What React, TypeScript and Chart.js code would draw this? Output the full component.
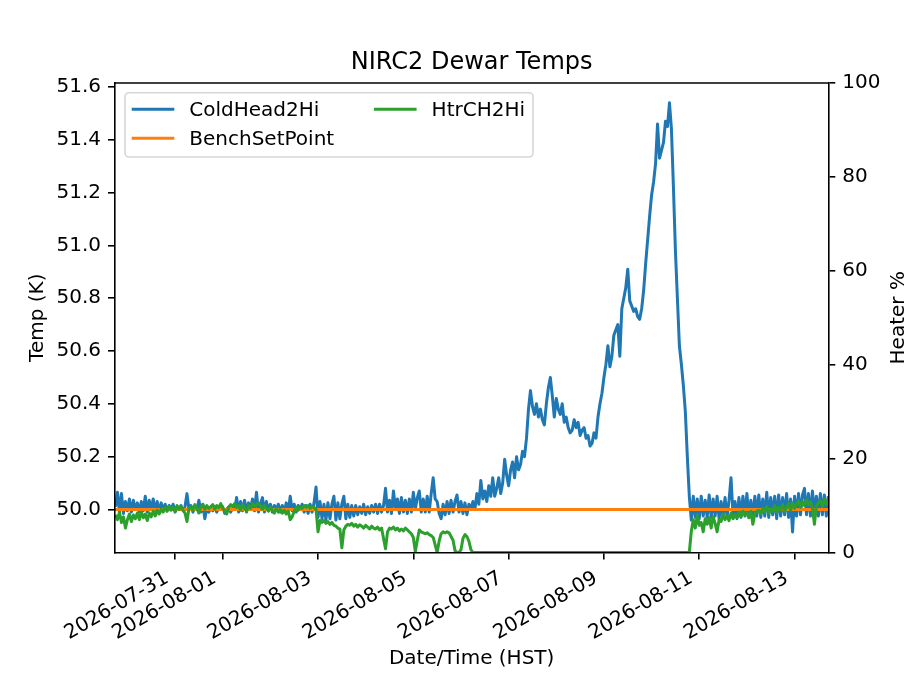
import { useEffect, useRef } from "react";
import { Chart, registerables, type Plugin } from "chart.js";

Chart.register(...registerables);

// hourly samples starting 2026-07-29 18:00 (HST, stored as UTC)
const START = Date.UTC(2026, 6, 29, 18, 0);
const STEP = 3600 * 1000;

const X_MIN = Date.UTC(2026, 6, 29, 17, 45);
const X_MAX = Date.UTC(2026, 7, 13, 17, 0);

const TITLE = "NIRC2 Dewar Temps";

const dateTicks = [
  "2026-07-31", "2026-08-01", "2026-08-03", "2026-08-05",
  "2026-08-07", "2026-08-09", "2026-08-11", "2026-08-13",
];
const tempTicks = [50.0, 50.2, 50.4, 50.6, 50.8, 51.0, 51.2, 51.4, 51.6];
const heaterTicks = [0, 20, 40, 60, 80, 100];

// ColdHead2Hi, K (one row = 12 h)
const coldHead2Hi = [
  50.01, 50.065, 49.99, 50.06, 49.985, 50.03, 49.995, 50.04, 49.99, 50.035, 50.0, 50.025,
  49.99, 50.03, 49.995, 50.05, 49.99, 50.035, 50.0, 50.04, 49.995, 50.03, 49.99, 50.025,
  50.0, 50.02, 49.995, 50.015, 50.0, 50.02, 49.99, 50.01, 50.0, 50.015, 49.995, 50.01,
  50.06, 50.0, 50.015, 49.99, 50.01, 50.0, 50.035, 49.99, 50.02, 49.965, 50.005, 49.99,
  50.005, 49.995, 50.01, 49.99, 50.005, 50.0, 50.01, 49.985, 50.0, 50.01, 49.99, 50.005,
  50.0, 50.045, 49.99, 50.03, 49.995, 50.035, 49.99, 50.025, 50.0, 50.04, 49.995, 50.065,
  49.99, 50.02, 50.045, 49.99, 50.03, 49.995, 50.02, 49.99, 50.015, 50.0, 50.02, 49.99,
  50.015, 49.99, 50.025, 49.99, 50.05, 49.995, 50.02, 49.99, 50.015, 50.0, 50.02, 49.99,
  50.015, 49.985, 50.02, 49.99, 50.025, 50.085, 49.97, 50.03, 49.965, 50.02, 49.96, 50.025,
  49.965, 50.02, 50.05, 49.96, 50.025, 49.965, 50.02, 50.05, 49.965, 50.02, 49.97, 50.015,
  49.975, 50.015, 49.98, 50.01, 49.985, 50.02, 49.98, 50.01, 49.985, 50.015, 49.99, 50.02,
  49.985, 50.02, 49.99, 50.015, 50.08, 49.99, 50.035, 49.985, 50.07, 50.0, 50.04, 49.985,
  50.045, 49.99, 50.035, 49.985, 50.04, 49.99, 50.065, 50.0, 50.045, 50.07, 49.99, 50.04,
  49.99, 50.05, 49.99, 50.06, 50.12, 50.04, 50.03, 49.985, 49.965, 50.02, 49.98, 50.03,
  49.985, 50.035, 49.99, 50.03, 50.055, 49.99, 50.03, 49.985, 50.025, 49.98, 50.02, 50.0,
  50.03, 50.0, 50.06, 50.02, 50.11, 50.04, 50.07, 50.03, 50.09, 50.05, 50.12, 50.05,
  50.08, 50.12, 50.06, 50.1, 50.19, 50.13, 50.09, 50.15, 50.18, 50.12, 50.2, 50.15,
  50.17, 50.22, 50.2, 50.27, 50.38, 50.45, 50.39, 50.36, 50.4, 50.35, 50.38, 50.34,
  50.32, 50.4, 50.46, 50.5, 50.43, 50.35, 50.42, 50.38, 50.36, 50.4, 50.33, 50.35,
  50.31, 50.29, 50.3, 50.34, 50.31, 50.33, 50.28, 50.3, 50.31, 50.27, 50.28, 50.24,
  50.25, 50.29, 50.27, 50.35, 50.4, 50.44, 50.5, 50.55, 50.62, 50.54, 50.58, 50.66,
  50.68, 50.7, 50.58, 50.76, 50.8, 50.84, 50.91, 50.79, 50.77, 50.75, 50.76, 50.73,
  50.72, 50.76, 50.83, 50.93, 51.02, 51.11, 51.19, 51.24, 51.31, 51.46, 51.33, 51.36,
  51.39, 51.47, 51.45, 51.54, 51.44, 51.22, 50.98, 50.8, 50.62, 50.55, 50.47, 50.37,
  50.2, 50.05, 49.96, 50.05, 49.97, 50.04, 49.965, 50.05, 49.975, 50.035, 49.97, 50.055,
  49.97, 50.04, 49.975, 50.05, 49.965, 50.03, 49.975, 50.045, 49.97, 50.035, 50.12, 49.98,
  50.03, 49.965, 50.045, 49.97, 50.05, 49.975, 50.06, 49.97, 50.035, 49.965, 50.05, 49.975,
  50.055, 49.97, 50.04, 49.975, 50.065, 49.97, 50.045, 49.98, 50.05, 49.965, 50.055, 49.975,
  50.045, 49.98, 50.06, 49.97, 50.04, 49.915, 50.05, 49.975, 50.06, 49.98, 50.055, 50.08,
  49.98, 50.06, 49.975, 50.07, 49.985, 50.05, 49.975, 50.06, 49.98, 50.055, 49.975, 50.05,
  50.0,
];

// HtrCH2Hi, % (one row = 12 h)
const htrCH2Hi = [
  8.0, 7.0, 8.6, 6.4, 7.6, 5.2, 7.0, 8.2, 6.6, 8.0, 7.2, 8.4,
  7.0, 8.6, 7.4, 8.2, 6.8, 8.4, 7.6, 8.8, 7.8, 9.0, 8.2, 9.2,
  8.6, 9.6, 8.8, 9.8, 9.0, 9.6, 8.8, 10.0, 9.2, 9.8, 9.0, 8.4,
  6.6, 9.4, 9.8, 9.0, 10.2, 9.4, 8.4, 9.8, 10.2, 9.2, 10.0, 9.4,
  9.8, 10.2, 9.2, 10.0, 9.6, 10.4, 9.4, 9.0, 8.2, 9.6, 10.2, 9.8,
  10.4, 9.6, 10.0, 9.0, 10.2, 9.4, 8.8, 10.0, 9.4, 10.4, 9.8, 10.2,
  10.6, 9.8, 9.2, 10.0, 9.4, 8.8, 9.6, 9.0, 8.4, 9.4, 8.6, 9.2,
  8.4, 9.0, 8.2, 8.8, 7.0, 7.6, 8.8, 9.6, 9.0, 9.8, 9.4, 10.0,
  9.6, 10.0, 9.4, 9.8, 9.6, 9.2, 4.4, 6.8, 6.4, 6.8, 6.2, 6.6,
  6.0, 6.4, 5.8, 5.6, 5.2, 5.0, 1.0, 4.8, 5.6, 6.0, 5.8, 6.2,
  5.6, 6.0, 5.4, 5.9, 5.6, 5.2, 5.8, 5.4, 5.0, 5.6, 5.2, 5.0,
  5.4, 4.8, 5.2, 3.0, 0.8, 4.4, 5.2, 5.0, 5.4, 4.8, 5.2, 4.6,
  5.0, 4.6, 5.2, 4.8, 4.4, 4.0, 3.2, 0.2, 2.6, 4.8, 4.4, 4.2,
  4.0, 4.2, 3.8, 3.6, 3.2, 1.6, 0.0, 2.4, 4.0, 4.4, 4.2, 4.4,
  4.2, 3.4, 2.6, 0.4, 0.0, 0.0, 0.6, 3.0, 3.8, 3.4, 2.4, 0.6,
  0, 0, 0, 0, 0, 0, 0, 0, 0, 0, 0, 0,
  0, 0, 0, 0, 0, 0, 0, 0, 0, 0, 0, 0,
  0, 0, 0, 0, 0, 0, 0, 0, 0, 0, 0, 0,
  0, 0, 0, 0, 0, 0, 0, 0, 0, 0, 0, 0,
  0, 0, 0, 0, 0, 0, 0, 0, 0, 0, 0, 0,
  0, 0, 0, 0, 0, 0, 0, 0, 0, 0, 0, 0,
  0, 0, 0, 0, 0, 0, 0, 0, 0, 0, 0, 0,
  0, 0, 0, 0, 0, 0, 0, 0, 0, 0, 0, 0,
  0, 0, 0, 0, 0, 0, 0, 0, 0, 0, 0, 0,
  0.0, 0.0, 4.5, 7.0, 5.2, 7.8, 5.8, 6.4, 4.4, 7.2, 6.0, 7.4,
  5.2, 7.6, 6.2, 4.4, 7.0, 6.6, 8.2, 7.0, 7.8, 6.8, 8.4, 7.2,
  8.0, 7.4, 8.6, 7.6, 8.8, 8.0, 8.4, 7.4, 8.8, 6.0, 8.2, 8.8,
  9.0, 8.2, 9.4, 8.6, 9.8, 8.4, 9.2, 8.8, 10.0, 8.6, 9.6, 9.0,
  10.2, 8.8, 9.6, 10.4, 9.0, 10.6, 9.4, 10.2, 11.0, 9.6, 10.8, 10.0,
  11.2, 10.2, 10.8, 9.6, 6.0, 9.8, 10.6, 11.0, 9.8, 11.4, 10.2, 11.0,
  10.4,
];

// BenchSetPoint, K (constant over the window)
const benchTimes = [X_MIN, X_MAX];
const benchSetPoint = [50.0, 50.0];

const FONT = "DejaVu Sans";

function roundedRect(ctx: CanvasRenderingContext2D, x: number, y: number, w: number, h: number, r: number) {
  ctx.beginPath();
  ctx.moveTo(x + r, y);
  ctx.arcTo(x + w, y, x + w, y + h, r);
  ctx.arcTo(x + w, y + h, x, y + h, r);
  ctx.arcTo(x, y + h, x, y, r);
  ctx.arcTo(x, y, x + w, y, r);
  ctx.closePath();
}

// title, top spine, right-hand axis label and the 2-column legend box
const figureDecor: Plugin<"line"> = {
  id: "figureDecor",
  afterDraw(chart) {
    const { ctx, chartArea: a } = chart;
    ctx.save();

    ctx.strokeStyle = "#000";
    ctx.lineWidth = 1.6;
    ctx.beginPath();
    ctx.moveTo(a.left - 0.8, a.top);
    ctx.lineTo(a.right + 0.8, a.top);
    ctx.stroke();

    ctx.fillStyle = "#000";
    ctx.font = `24px "${FONT}"`;
    ctx.textAlign = "center";
    ctx.textBaseline = "alphabetic";
    ctx.fillText(TITLE, (a.left + a.right) / 2, a.top - 14);

    ctx.save();
    ctx.translate(904, (a.top + a.bottom) / 2);
    ctx.rotate(-Math.PI / 2);
    ctx.font = `20px "${FONT}"`;
    ctx.fillText("Heater %", 0, 0);
    ctx.restore();

    const bx = a.left + 10;
    const by = a.top + 9.7;
    roundedRect(ctx, bx, by, 408, 64.3, 4);
    ctx.fillStyle = "rgba(255,255,255,0.8)";
    ctx.fill();
    ctx.strokeStyle = "rgba(204,204,204,0.8)";
    ctx.lineWidth = 1.6;
    ctx.stroke();

    const slots = [
      [a.left + 16.7, a.top + 26.3],
      [a.left + 16.7, a.top + 55.3],
      [a.left + 259, a.top + 26.3],
    ];
    ctx.font = `20px "${FONT}"`;
    ctx.textAlign = "left";
    chart.data.datasets.forEach((ds, i) => {
      const [hx, hy] = slots[i];
      ctx.strokeStyle = ds.borderColor as string;
      ctx.lineWidth = 3;
      ctx.beginPath();
      ctx.moveTo(hx, hy);
      ctx.lineTo(hx + 42.6, hy);
      ctx.stroke();
      ctx.fillStyle = "#000";
      ctx.fillText(ds.label ?? "", hx + 57.6, hy + 7);
    });

    ctx.restore();
  },
};

const axisGrid = { drawOnChartArea: false, tickLength: 7, lineWidth: 1.6, color: "#000" };
const axisBorder = { color: "#000", width: 1.6, z: 1 };

export default function App() {
  const canvasRef = useRef<HTMLCanvasElement>(null);

  useEffect(() => {
    if (!canvasRef.current) return;
    Chart.defaults.font.family = FONT;
    Chart.defaults.font.size = 20;
    Chart.defaults.color = "#000";

    const times = coldHead2Hi.map((_, k) => START + k * STEP);

    const chart = new Chart(canvasRef.current, {
      type: "line",
      data: {
        datasets: [
          {
            label: "ColdHead2Hi",
            data: times.map((t, k) => ({ x: t, y: coldHead2Hi[k] })),
            borderColor: "#1f77b4",
            yAxisID: "y",
            order: 3,
          },
          {
            label: "BenchSetPoint",
            data: benchTimes.map((t, k) => ({ x: t, y: benchSetPoint[k] })),
            borderColor: "#ff7f0e",
            yAxisID: "y",
            order: 2,
          },
          {
            label: "HtrCH2Hi",
            data: times.map((t, k) => ({ x: t, y: htrCH2Hi[k] })),
            borderColor: "#2ca02c",
            yAxisID: "y1",
            order: 1,
          },
        ],
      },
      options: {
        animation: false,
        responsive: true,
        maintainAspectRatio: false,
        layout: { padding: { top: 83, left: 0, right: 0, bottom: 0 } },
        elements: {
          line: { borderWidth: 3, tension: 0, fill: false, borderJoinStyle: "round" },
          point: { radius: 0, hoverRadius: 0 },
        },
        datasets: { line: { clip: 0 } },
        plugins: {
          legend: { display: false },
          title: { display: false },
          tooltip: { enabled: false },
        },
        events: [],
        scales: {
          x: {
            type: "linear",
            min: X_MIN,
            max: X_MAX,
            afterBuildTicks: (s) => {
              s.ticks = dateTicks.map((d) => ({ value: Date.parse(d) }));
            },
            afterFit: (s) => {
              s.height = 138.5;
            },
            ticks: {
              autoSkip: false,
              minRotation: 30,
              maxRotation: 30,
              padding: 7,
              labelOffset: -8,
              callback: (v) => new Date(Number(v)).toISOString().slice(0, 10),
            },
            grid: axisGrid,
            border: axisBorder,
            title: { display: true, text: "Date/Time (HST)", padding: { top: 0, bottom: 20 } },
          },
          y: {
            position: "left",
            min: 49.837,
            max: 51.615,
            afterBuildTicks: (s) => {
              s.ticks = tempTicks.map((v) => ({ value: v }));
            },
            afterFit: (s) => {
              s.width = 115;
            },
            ticks: { padding: 7, callback: (v) => Number(v).toFixed(1) },
            grid: axisGrid,
            border: axisBorder,
            title: { display: true, text: "Temp (K)", padding: { top: 26, bottom: 0 } },
          },
          y1: {
            position: "right",
            min: 0,
            max: 100,
            afterBuildTicks: (s) => {
              s.ticks = heaterTicks.map((v) => ({ value: v }));
            },
            afterFit: (s) => {
              s.width = 92.7;
            },
            ticks: { padding: 7, callback: (v) => String(v) },
            grid: axisGrid,
            border: axisBorder,
          },
        },
      },
      plugins: [figureDecor],
    });

    return () => chart.destroy();
  }, []);

  return (
    <div style={{ position: "fixed", left: 0, top: 0, width: 921, height: 691, background: "#fff" }}>
      <canvas ref={canvasRef} />
    </div>
  );
}
